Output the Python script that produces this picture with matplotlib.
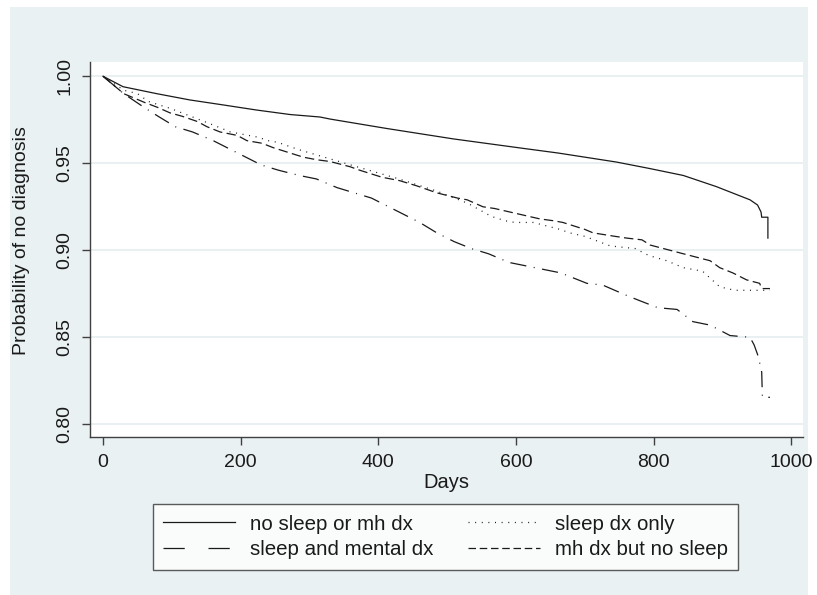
import matplotlib
matplotlib.use("Agg")
import matplotlib.pyplot as plt
from matplotlib.patches import Rectangle
from matplotlib.lines import Line2D

plt.rcParams['font.family'] = ['Liberation Sans', 'DejaVu Sans']

# Kaplan-Meier curves (days, probability of no diagnosis)
none_days = [0, 29, 78, 126, 175, 223, 272, 315, 330, 412, 509, 606, 661, 697,
             746, 794, 843, 891, 940, 951, 956, 957, 966, 966]
none_surv = [1.0, 0.994, 0.990, 0.9864, 0.9835, 0.9806, 0.978, 0.9766, 0.9754,
             0.970, 0.964, 0.9588, 0.9559, 0.9537, 0.9507, 0.947, 0.943, 0.9366,
             0.929, 0.926, 0.922, 0.919, 0.919, 0.907]

both_days = [0, 30, 60, 80, 105, 130, 160, 180, 205, 230, 255, 285, 310, 340,
             365, 390, 415, 435, 460, 485, 510, 535, 560, 590, 615, 640, 665,
             703, 726, 761, 780, 806, 834, 857, 882, 911, 940, 946, 952, 957,
             958, 969]
both_surv = [1.0, 0.990, 0.982, 0.977, 0.971, 0.968, 0.963, 0.959, 0.954,
             0.949, 0.946, 0.943, 0.941, 0.936, 0.933, 0.930, 0.925, 0.921,
             0.916, 0.910, 0.905, 0.901, 0.898, 0.893, 0.891, 0.889, 0.887,
             0.881, 0.880, 0.874, 0.871, 0.867, 0.866, 0.859, 0.857, 0.851,
             0.850, 0.8456, 0.839, 0.830, 0.8155, 0.8155]

sleep_days = [0, 30, 50, 66, 98, 160, 185, 225, 240, 254, 283, 313, 360, 430,
              485, 530, 564, 584, 598, 625, 664, 678, 700, 737, 773, 793, 819,
              843, 871, 896, 918, 954, 969]
sleep_surv = [1.0, 0.992, 0.990, 0.9855, 0.9815, 0.972, 0.968, 0.965, 0.963,
              0.962, 0.958, 0.9545, 0.949, 0.941, 0.934, 0.927, 0.9195, 0.917,
              0.916, 0.916, 0.912, 0.910, 0.908, 0.9025, 0.901, 0.897, 0.894,
              0.890, 0.888, 0.879, 0.877, 0.877, 0.877]

mh_days = [0, 30, 60, 80, 97, 115, 137, 151, 170, 195, 209, 231, 247, 267, 291,
           311, 330, 359, 373, 405, 431, 456, 485, 515, 529, 552, 569, 591, 613,
           635, 654, 668, 700, 712, 744, 761, 783, 795, 843, 882, 896, 915, 935,
           954, 957, 969]
mh_surv = [1.0, 0.990, 0.985, 0.982, 0.979, 0.977, 0.974, 0.971, 0.968, 0.966,
           0.963, 0.9615, 0.959, 0.9565, 0.9535, 0.952, 0.951, 0.948, 0.946,
           0.942, 0.940, 0.937, 0.933, 0.930, 0.929, 0.925, 0.924, 0.922, 0.920,
           0.918, 0.917, 0.916, 0.912, 0.910, 0.908, 0.907, 0.906, 0.903, 0.898,
           0.894, 0.890, 0.887, 0.883, 0.881, 0.878, 0.878]

labels = ["no sleep or mh dx", "sleep and mental dx", "sleep dx only",
          "mh dx but no sleep"]
yticks = [0.80, 0.85, 0.90, 0.95, 1.00]
xticks = [0, 200, 400, 600, 800, 1000]

bg = '#eaf1f3'
ink = '#1a1a1a'

fig = plt.figure(figsize=(8.17, 5.95), dpi=100, facecolor='white')
fig.patches.append(Rectangle((10 / 817, 0), 798 / 817, 588 / 595,
                             transform=fig.transFigure, facecolor=bg,
                             edgecolor='none', zorder=-10))

ax = fig.add_axes([90 / 817, 1 - 437 / 595, 713 / 817, 375 / 595])
ax.set_facecolor('white')

lw = 0.9
ax.plot(none_days, none_surv, color=ink, lw=lw)
ax.plot(both_days, both_surv, color=ink, lw=lw, dashes=(13, 6, 0.8, 6))
ax.plot(sleep_days, sleep_surv, color=ink, lw=lw, dashes=(0.8, 4.5))
ax.plot(mh_days, mh_surv, color=ink, lw=lw, dashes=(7.5, 3.5))

ax.set_xlim(-19, 1017)
ax.set_ylim(0.7927, 1.0082)
ax.set_yticks(yticks)
ax.set_yticklabels(["%.2f" % v for v in yticks], rotation=90, va='center')
ax.set_xticks(xticks)
for y in yticks:
    ax.axhline(y, color='#e8f0f2', lw=1.4, zorder=0)

for s in ['top', 'right']:
    ax.spines[s].set_visible(False)
for s in ['left', 'bottom']:
    ax.spines[s].set_color('#404040')
    ax.spines[s].set_linewidth(1.0)
ax.tick_params(axis='both', length=5.5, width=1.0, color='#404040',
               labelsize=14, labelcolor=ink)
ax.tick_params(axis='y', pad=6.5)
ax.tick_params(axis='x', pad=7)

ax.set_xlabel("Days", fontsize=14.5, color=ink, labelpad=1)
fig.text(22 / 817, 1 - 241 / 595, "Probability of no diagnosis", rotation=90,
         ha='center', va='center', fontsize=14, color=ink)

handles = [Line2D([], [], color=ink, lw=lw),
           Line2D([], [], color=ink, lw=lw, dashes=(17, 19)),
           Line2D([], [], color=ink, lw=lw, dashes=(0.8, 4.5)),
           Line2D([], [], color=ink, lw=lw, dashes=(6, 3))]
leg = fig.legend(handles, labels, ncol=2, loc='center',
                 bbox_to_anchor=((149 + 742) / 2 / 817, 1 - 537 / 595),
                 prop={'size': 14.8}, frameon=True, fancybox=False,
                 edgecolor='#333333', handlelength=3.5, handletextpad=0.75,
                 columnspacing=1.65, labelspacing=0.33, borderpad=0.5,
                 borderaxespad=0)
leg.get_frame().set_linewidth(1.0)
for t in leg.get_texts():
    t.set_color(ink)

fig.savefig("out.png", dpi=100, facecolor='white')
